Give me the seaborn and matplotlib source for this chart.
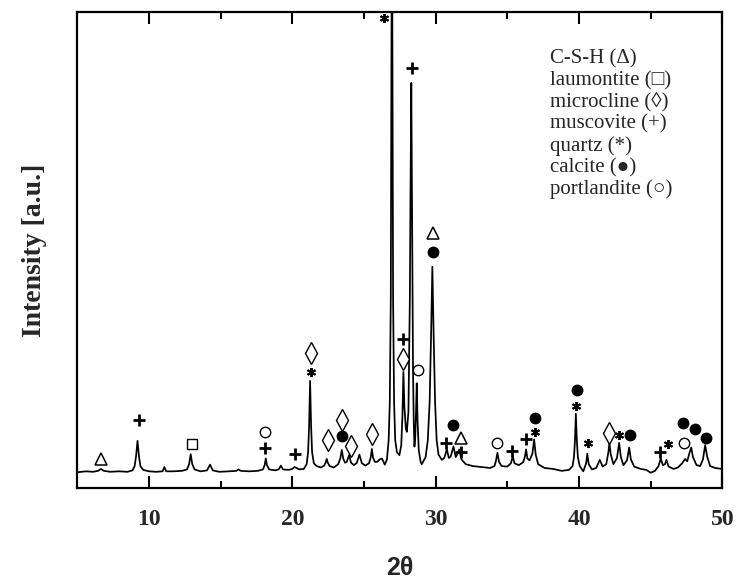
import matplotlib
matplotlib.use("Agg")
import matplotlib.pyplot as plt
import seaborn as sns
import pandas as pd

# ---- data ----
two_theta = [5.0, 5.6, 6.1, 6.45, 6.65, 6.85, 7.3, 7.9, 8.5, 8.85,
             9.0, 9.1, 9.2, 9.3, 9.4, 9.6, 10.0, 10.5, 10.95, 11.07, 11.2,
             11.7, 12.3, 12.65, 12.8, 12.91, 13.02, 13.18, 13.6, 14.05, 14.26,
             14.45, 14.9, 15.6, 16.1, 16.25, 16.4, 17.0, 17.6, 17.95, 18.07,
             18.15, 18.23, 18.38, 18.8, 19.05, 19.2, 19.35, 19.75, 20.0, 20.15,
             20.3, 20.5, 20.8, 21.0, 21.1, 21.17, 21.24, 21.31, 21.38, 21.5,
             21.7, 22.0, 22.22, 22.32, 22.4, 22.48, 22.6, 22.9, 23.2, 23.35,
             23.45, 23.55, 23.68, 23.8, 23.96, 24.1, 24.3, 24.5, 24.68, 24.85,
             25.1, 25.35, 25.47, 25.55, 25.63, 25.75, 25.92, 26.1, 26.25, 26.45,
             26.6, 26.72, 26.8, 26.87, 26.95, 27.03, 27.1, 27.18, 27.3, 27.47,
             27.6, 27.68, 27.75, 27.82, 27.92, 27.99, 28.1, 28.16, 28.2, 28.24,
             28.3, 28.36, 28.42, 28.47, 28.52, 28.58, 28.63, 28.68, 28.74, 28.82,
             28.95, 29.03, 29.3, 29.45, 29.58, 29.68, 29.77, 29.86, 29.96, 30.07,
             30.2, 30.43, 30.6,
             30.78, 30.92, 31.05, 31.24, 31.4, 31.5, 31.64, 31.8, 32.1, 32.6,
             33.2, 33.8, 34.1, 34.2, 34.31, 34.42, 34.6, 35.0, 35.25, 35.38,
             35.5, 35.8, 36.1, 36.22, 36.31, 36.4, 36.55, 36.75, 36.87, 36.98,
             37.15, 37.6, 38.2, 38.8, 39.3, 39.55, 39.65, 39.72, 39.78, 39.85,
             39.92, 40.05, 40.3, 40.5, 40.58, 40.68, 40.9, 41.2, 41.45, 41.65,
             41.9, 42.05, 42.12, 42.22, 42.4, 42.65, 42.8, 42.92, 43.1, 43.35,
             43.5, 43.62, 43.85, 44.3, 44.7, 45.0, 45.3, 45.55, 45.7, 45.85,
             46.0, 46.1, 46.25, 46.6, 46.9, 47.2, 47.4, 47.55, 47.72, 47.83,
             47.95, 48.2, 48.45, 48.65, 48.8, 48.95, 49.15, 49.5, 50.0]
intensity = [3.3, 3.5, 3.4, 3.6, 4.0, 3.6, 3.4, 3.5, 3.4, 3.7,
             4.6, 6.7, 9.9, 6.7, 4.6, 3.8, 3.5, 3.4, 3.5, 4.4, 3.5,
             3.5, 3.6, 3.9, 5.0, 7.1, 5.0, 3.9, 3.5, 3.7, 4.9,
             3.7, 3.4, 3.5, 3.6, 3.9, 3.6, 3.5, 3.6, 3.9, 4.8,
             6.2, 4.8, 3.9, 3.7, 3.9, 4.7, 3.9, 3.8, 4.0, 4.4,
             4.2, 3.9, 4.0, 5.0, 7.5, 13.0, 22.5, 13.0, 7.5, 5.2,
             4.6, 4.3, 4.7, 5.3, 6.1, 5.3, 4.6, 4.3, 5.0, 6.2,
             8.0, 6.2, 5.3, 5.5, 6.9, 5.3, 4.8, 5.3, 7.0, 5.2,
             4.7, 5.2, 6.4, 8.2, 6.4, 5.5, 5.5, 6.0, 6.2, 4.9,
             6.0, 10.0, 18.0, 40.0, 130.0, 40.0, 18.0, 10.0, 7.5, 6.9,
             9.0, 15.0, 24.4, 17.0, 12.5, 11.8, 16.0, 30.0, 40.0, 60.0,
             85.1, 55.0, 25.0, 14.0, 8.7, 11.0, 16.0, 22.0, 14.0, 8.0,
             5.5, 5.0, 6.5, 10.0, 18.0, 32.0, 46.5, 32.0, 18.0, 10.0,
             7.0, 5.9, 6.3,
             8.1, 6.3, 6.6, 8.7, 6.5, 7.0, 8.1, 6.0, 5.0, 4.6,
             4.4, 4.2, 4.6, 5.6, 7.4, 5.5, 4.6, 4.5, 5.2, 6.6,
             5.2, 4.8, 5.4, 6.5, 8.1, 6.2, 5.8, 7.2, 10.2, 7.0,
             5.0, 4.2, 4.0, 3.6, 3.8, 4.6, 6.5, 10.0, 15.6, 10.0,
             6.5, 4.6, 3.5, 5.2, 7.2, 5.0, 3.9, 4.2, 5.9, 4.5,
             5.0, 7.5, 9.4, 7.0, 5.0, 6.3, 9.5, 6.5, 4.8, 5.8,
             8.5, 6.0, 4.5, 4.0, 3.8, 3.2, 3.6, 4.6, 6.2, 4.8,
             5.0, 5.9, 4.5, 4.0, 4.3, 5.2, 6.1, 5.6, 7.5, 8.5,
             6.5, 4.8, 4.6, 6.0, 9.0, 6.5, 4.6, 4.2, 4.0]

ann_sym = ["tri", "plus", "sq", "circ", "plus", "plus", "dia", "star", "dia", "dia",
           "dot", "dia", "dia", "star", "plus", "dia", "circ", "plus", "tri", "dot",
           "plus", "dot", "tri", "plus", "circ", "plus", "plus", "star", "dot", "star",
           "dot", "star", "dia", "star", "dot", "plus", "star", "circ", "dot", "dot",
           "dot"]
ann_x = [6.66, 9.33, 12.98, 18.1, 18.1, 20.2, 21.29, 21.29, 22.5, 23.45,
         23.45, 24.08, 25.59, 26.4, 27.75, 27.75, 28.8, 28.38, 29.84, 29.84,
         30.73, 31.24, 31.75, 31.75, 34.27, 35.3, 36.29, 36.94, 36.94, 39.8,
         39.85, 40.62, 42.1, 42.82, 43.57, 45.62, 46.2, 47.36, 47.29, 48.1,
         48.85]
ann_y = [6.0, 14.3, 9.2, 11.7, 8.3, 7.1, 28.3, 24.4, 10.1, 14.3,
         10.9, 8.8, 11.3, 98.7, 31.2, 27.0, 24.8, 88.2, 53.6, 49.6,
         9.5, 13.2, 10.4, 7.6, 9.4, 7.8, 10.3, 11.7, 14.6, 17.2,
         20.6, 9.5, 11.5, 11.1, 11.1, 7.6, 9.2, 9.4, 13.6, 12.4,
         10.4]

legend_labels = ["C-S-H (\u0394)", "laumontite (\u25a1)", "microcline (\u25ca)",
                 "muscovite (+)", "quartz (*)", "calcite (\u25cf)", "portlandite (\u25cb)"]

x_ticks = [10, 20, 30, 40, 50]
x_minor = [15, 25, 35, 45]

# ---- plotting ----
sns.set_theme(style="white")
plt.rcParams["font.family"] = ["Liberation Serif", "DejaVu Serif"]

fig, ax = plt.subplots(figsize=(7.37, 5.81), dpi=100)
fig.subplots_adjust(left=0.1049, right=0.9801, bottom=0.1601, top=0.9793)

df = pd.DataFrame({"two_theta": two_theta, "intensity": intensity})
sns.lineplot(data=df, x="two_theta", y="intensity", sort=False, estimator=None,
             color="black", lw=1.25, ax=ax)

styles = {
    "tri": dict(marker="^", ms=8, mfc="white", mec="black", mew=1.1),
    "sq": dict(marker="s", ms=7.5, mfc="white", mec="black", mew=1.0),
    "dia": dict(marker="d", ms=11, mfc="white", mec="black", mew=1.0),
    "plus": dict(marker="+", ms=8.5, mec="black", mew=2.0),
    "star": dict(marker=(6, 2, 0), ms=6.5, mec="black", mew=1.4),
    "dot": dict(marker="o", ms=7.5, mfc="black", mec="black", mew=1.0),
    "circ": dict(marker="o", ms=7.5, mfc="white", mec="black", mew=1.0),
}
ann = pd.DataFrame({"x": ann_x, "y": ann_y, "sym": ann_sym})
for sym, grp in ann.groupby("sym"):
    ax.plot(grp["x"], grp["y"], ls="none", clip_on=False, zorder=5, **styles[sym])

ax.set_xlim(5, 50)
ax.set_ylim(0, 100)
ax.set_yticks([])
ax.set_xticks(x_ticks)
ax.set_xticks(x_minor, minor=True)
ax.set_xticklabels([str(t) for t in x_ticks])
ax.tick_params(axis="x", which="both", direction="in", top=True, bottom=True,
               width=1.5, color="black")
ax.tick_params(axis="x", which="major", length=8.5, pad=15, labelsize=17)
ax.tick_params(axis="x", which="minor", length=5)
for lbl in ax.get_xticklabels():
    lbl.set_fontweight("bold")
    lbl.set_family(["Liberation Serif", "DejaVu Serif"])
for s in ax.spines.values():
    s.set_linewidth(1.6)
    s.set_color("black")

ax.set_xlabel("2\u03b8", fontsize=18, fontweight="bold",
              family=["Liberation Sans", "DejaVu Sans"], labelpad=19)
ax.set_ylabel("Intensity [a.u.]", fontsize=20, fontweight="bold",
              family=["Liberation Serif", "DejaVu Serif"], labelpad=22)

for i, lab in enumerate(legend_labels):
    ax.text(0.733, 0.9006 - i * 0.0454, lab, transform=ax.transAxes,
            ha="left", va="center", fontsize=15,
            family=["Liberation Serif", "DejaVu Serif"])

fig.savefig("out.png", dpi=100)
